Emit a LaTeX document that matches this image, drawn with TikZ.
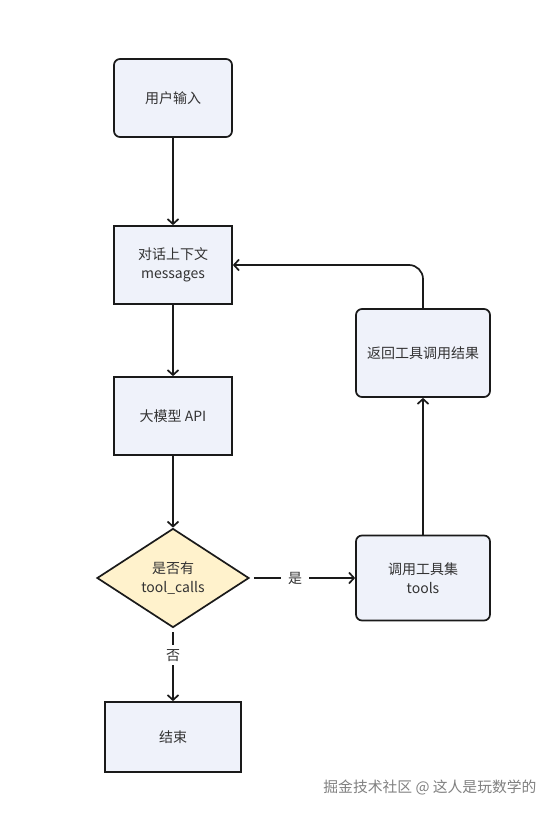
\documentclass[tikz,border=0pt]{standalone}
\usepackage{fontspec}
\setmainfont{Noto Sans CJK SC}
\usetikzlibrary{arrows.meta,shapes.geometric}
\definecolor{boxfill}{HTML}{EFF2FA}
\definecolor{decfill}{HTML}{FFF2CC}
\definecolor{edge}{HTML}{1A1A1A}
\definecolor{txt}{HTML}{333333}
\begin{document}
\begin{tikzpicture}[x=1pt,y=-1pt,
  font=\fontsize{14}{19.5}\selectfont,
  base/.style={draw=edge,line width=1.7pt,fill=boxfill,align=center,inner sep=0pt,text=txt},
  rbox/.style={base,rounded corners=6pt},
  sbox/.style={base},
  dec/.style={draw=edge,line width=1.7pt,fill=decfill,diamond,aspect=1.53,align=center,inner sep=0pt,minimum width=152pt,minimum height=99pt,text=txt},
  arr/.style={draw=edge,line width=1.7pt,-{Straight Barb[length=5pt,width=11pt,line width=1.7pt]}},
  lbl/.style={fill=white,inner sep=4pt,text=txt}]
\useasboundingbox (0,0) rectangle (556,813);
\node[rbox,minimum width=118pt,minimum height=78pt] (input) at (173,98) {用户输入};
\node[sbox,minimum width=118pt,minimum height=78pt] (ctx) at (173,265) {对话上下文\\messages};
\node[sbox,minimum width=118pt,minimum height=78pt] (llm) at (173,416) {大模型 API};
\node[dec] (check) at (173,578) {是否有\\tool\_calls};
\node[sbox,minimum width=136pt,minimum height=70pt] (end) at (173,737) {结束};
\node[rbox,minimum width=134pt,minimum height=85pt] (tools) at (423,578) {调用工具集\\tools};
\node[rbox,minimum width=134pt,minimum height=88pt] (ret) at (423,353) {返回工具调用结果};
\draw[arr] (input) -- (ctx);
\draw[arr] (ctx) -- (llm);
\draw[arr] (llm) -- (check);
\draw[arr,shorten <=4pt] (check) -- node[lbl,pos=0.43,inner xsep=7pt] {是} (tools);
\draw[arr,shorten <=4pt] (check) -- node[lbl,pos=0.37] {否} (end);
\draw[arr] (tools) -- (ret);
\draw[arr,rounded corners=14pt] (ret.north) |- (ctx.east);
\node[anchor=east,text=black!50,font=\fontsize{14.8}{18}\selectfont] (wm) at (540,787) {掘金技术社区 @ 这人是玩数学的};
\end{tikzpicture}
\end{document}
